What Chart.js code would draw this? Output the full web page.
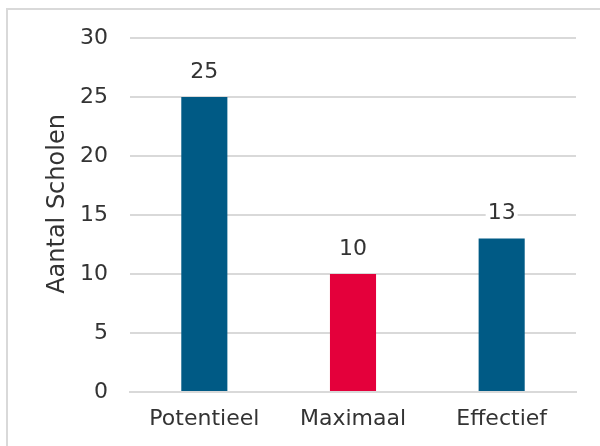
<!DOCTYPE html>
<html>
<head>
<meta charset="utf-8">
<script src="https://cdn.jsdelivr.net/npm/chart.js@4/dist/chart.umd.min.js"></script>
<style>
  html, body { margin:0; padding:0; background:#fff; }
  #wrap { position:relative; width:600px; height:446px; overflow:hidden; }
  #frame { position:absolute; left:6px; top:8px; width:700px; height:600px; border-left:2px solid #d9d9d9; border-top:2px solid #d9d9d9; box-sizing:border-box; }
  canvas { position:absolute; left:0; top:0; }
</style>
</head>
<body>
<div id="wrap">
  <div id="frame"></div>
  <canvas id="c" width="600" height="446"></canvas>
</div>
<script>
const categories = ['Potentieel', 'Maximaal', 'Effectief'];
const values = [25, 10, 13];
const barColors = ['#005a85', '#e4003b', '#005a85'];
const yTicks = [0, 5, 10, 15, 20, 25, 30];
const yTitle = 'Aantal Scholen';

const FONT = "'DejaVu Sans', sans-serif";
const TXT = '#333333';

const labelPlugin = {
  id: 'valueLabels',
  afterDatasetsDraw(chart) {
    const ctx = chart.ctx;
    const meta = chart.getDatasetMeta(0);
    ctx.save();
    ctx.font = '22px ' + FONT;
    ctx.textAlign = 'center';
    ctx.textBaseline = 'middle';
    meta.data.forEach((bar, i) => {
      const y = bar.y - 25;
      const t = String(values[i]);
      const w = ctx.measureText(t).width;
      ctx.fillStyle = '#fff';
      ctx.fillRect(bar.x - w/2 - 2, y - 9, w + 4, 18);
      ctx.fillStyle = TXT;
      ctx.fillText(t, bar.x, y);
    });
    ctx.restore();
  }
};

const yTitlePlugin = {
  id: 'yTitle',
  afterDraw(chart) {
    const ctx = chart.ctx;
    const area = chart.chartArea;
    ctx.save();
    ctx.translate(58, (area.top + area.bottom) / 2 - 11);
    ctx.rotate(-Math.PI / 2);
    ctx.font = '24px ' + FONT;
    ctx.fillStyle = TXT;
    ctx.textAlign = 'center';
    ctx.textBaseline = 'middle';
    ctx.fillText(yTitle, 0, 0);
    ctx.restore();
  }
};

new Chart(document.getElementById('c'), {
  type: 'bar',
  data: {
    labels: categories,
    datasets: [{ data: values, backgroundColor: barColors, categoryPercentage: 1, barPercentage: 0.31 }]
  },
  plugins: [labelPlugin, yTitlePlugin],
  options: {
    responsive: false,
    animation: false,
    layout: { padding: { left: 0, right: 24, top: 38, bottom: 0 } },
    plugins: { legend: { display: false }, tooltip: { enabled: false } },
    scales: {
      x: {
        grid: { display: false, drawTicks: false },
        border: { color: '#d9d9d9', width: 2 },
        ticks: { color: TXT, font: { family: FONT, size: 22 }, padding: 14, maxRotation: 0 },
        afterFit(s) { s.height = 54; }
      },
      y: {
        min: 0, max: 30,
        afterBuildTicks(s) { s.ticks = yTicks.map(v => ({ value: v })); },
        grid: { color: '#d9d9d9', lineWidth: 2, drawTicks: false },
        border: { display: false },
        ticks: { color: TXT, font: { family: FONT, size: 22 }, padding: 22 },
        title: { display: false },
        afterFit(s) { s.width = 130; }
      }
    }
  }
});
</script>
</body>
</html>
